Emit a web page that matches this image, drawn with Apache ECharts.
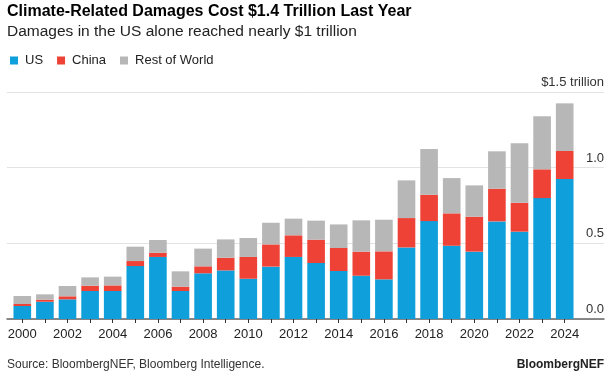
<!DOCTYPE html>
<html>
<head>
<meta charset="utf-8">
<script src="https://cdn.jsdelivr.net/npm/echarts@6/dist/echarts.min.js"></script>
<style>
html,body{margin:0;padding:0;background:#fff;}
#c{width:611px;height:378px;}
</style>
</head>
<body>
<div id="c"></div>
<script>
var years = ['2000','2001','2002','2003','2004','2005','2006','2007','2008','2009','2010','2011','2012','2013','2014','2015','2016','2017','2018','2019','2020','2021','2022','2023','2024'];
var us = [0.086,0.114,0.130,0.185,0.185,0.350,0.410,0.185,0.302,0.321,0.266,0.346,0.410,0.370,0.317,0.286,0.262,0.473,0.647,0.484,0.445,0.645,0.577,0.799,0.925];
var china = [0.013,0.014,0.020,0.035,0.037,0.033,0.028,0.029,0.046,0.084,0.144,0.147,0.143,0.154,0.152,0.159,0.185,0.194,0.174,0.214,0.231,0.216,0.191,0.190,0.185];
var restOfWorld = [0.053,0.035,0.068,0.055,0.058,0.095,0.084,0.101,0.117,0.121,0.125,0.143,0.110,0.126,0.156,0.207,0.209,0.249,0.302,0.233,0.207,0.247,0.394,0.350,0.315];
var yTicks = [0, 0.5, 1.0, 1.5];
var yTickLabels = ['0.0', '0.5', '1.0', '$1.5 trillion'];

var FONT = 'Liberation Sans, Arial, Helvetica, sans-serif';
var chart = echarts.init(document.getElementById('c'), null, {renderer: 'canvas'});
var gridTop = 92, gridBottom = 59;

chart.setOption({
  animation: false,
  textStyle: {fontFamily: FONT},
  title: [
    {text: 'Climate-Related Damages Cost $1.4 Trillion Last Year', left: 7, top: 3, padding: 0,
     textStyle: {fontSize: 16, fontWeight: 'bold', color: '#000', lineHeight: 18, fontFamily: FONT}},
    {text: 'Damages in the US alone reached nearly $1 trillion', left: 7, top: 23, padding: 0,
     textStyle: {fontSize: 15.5, fontWeight: 'normal', color: '#222', lineHeight: 18, fontFamily: FONT}},
    {text: 'Source: BloombergNEF, Bloomberg Intelligence.', left: 7, top: 357, padding: 0,
     textStyle: {fontSize: 12, fontWeight: 'normal', color: '#333', lineHeight: 16, fontFamily: FONT}},
    {text: 'BloombergNEF', right: 7, top: 357, padding: 0,
     textStyle: {fontSize: 12, fontWeight: 'bold', color: '#222', lineHeight: 16, fontFamily: FONT}}
  ],
  legend: {
    left: 5, top: 49, icon: 'rect', itemWidth: 8, itemHeight: 8, itemGap: 14,
    textStyle: {fontSize: 13, color: '#222', fontFamily: FONT, padding: [0,0,0,2]},
    data: ['US', 'China', 'Rest of World']
  },
  grid: [
    {left: 7, right: 7, top: gridTop, bottom: gridBottom, containLabel: false},
    {left: 11, right: 35, top: gridTop, bottom: gridBottom, containLabel: false}
  ],
  xAxis: [
    {gridIndex: 0, type: 'value', min: 0, max: 1, show: true,
     axisLine: {show: true, lineStyle: {color: '#666', width: 1.5}},
     axisTick: {show: false}, axisLabel: {show: false}, splitLine: {show: false}},
    {gridIndex: 1, type: 'category', data: years, boundaryGap: true,
     axisLine: {show: false},
     axisTick: {show: true, alignWithLabel: true, interval: 0, length: 4, lineStyle: {color: '#333', width: 1}},
     axisLabel: {interval: 1, fontSize: 13, color: '#222', margin: 9, fontFamily: FONT}}
  ],
  yAxis: [
    {gridIndex: 0, type: 'value', min: 0, max: 1.5, interval: 0.5, position: 'right',
     axisLine: {show: false}, axisTick: {show: false},
     splitLine: {show: true, lineStyle: {color: '#e3e3e3', width: 1}},
     axisLabel: {inside: true, margin: 0, fontSize: 13, color: '#333', verticalAlign: 'bottom',
       padding: [0, 0, 3, 0], fontFamily: FONT,
       formatter: function (v) { var i = yTicks.indexOf(v); return i >= 0 ? yTickLabels[i] : ''; }}},
    {gridIndex: 1, type: 'value', min: 0, max: 1.5, interval: 0.5, show: false,
     splitLine: {show: false}}
  ],
  series: [
    {name: 'US', type: 'bar', stack: 'd', xAxisIndex: 1, yAxisIndex: 1, data: us,
     barCategoryGap: '22%', itemStyle: {color: '#0f9fda'}},
    {name: 'China', type: 'bar', stack: 'd', xAxisIndex: 1, yAxisIndex: 1, data: china,
     itemStyle: {color: '#ef4236'}},
    {name: 'Rest of World', type: 'bar', stack: 'd', xAxisIndex: 1, yAxisIndex: 1, data: restOfWorld,
     itemStyle: {color: '#b7b7b7'}}
  ]
});
</script>
</body>
</html>
